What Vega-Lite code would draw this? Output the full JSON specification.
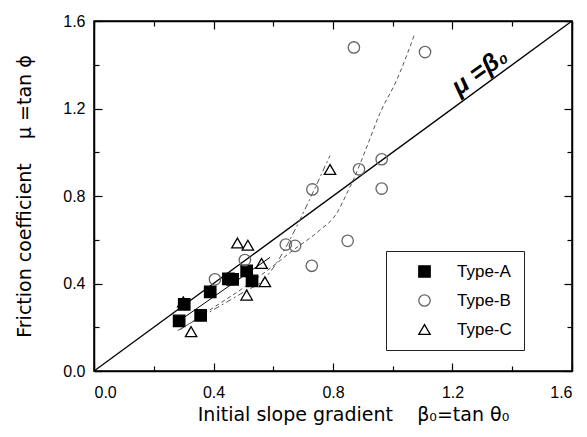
{
  "$schema": "https://vega.github.io/schema/vega-lite/v6.json",
  "width": 478,
  "height": 350,
  "autosize": "none",
  "padding": {"left": 94, "top": 21, "right": 15, "bottom": 66},
  "background": "white",
  "config": {
    "view": {"stroke": "black", "strokeWidth": 1.5},
    "axis": {"grid": false, "domainColor": "black", "tickColor": "black", "labelFont": "Liberation Sans", "labelFontSize": 16, "labelColor": "black", "titleFont": "DejaVu Sans", "titleFontSize": 19, "titleFontWeight": "normal", "titleColor": "black", "tickWidth": 1.2, "domainWidth": 1.5}
  },
  "datasets": {
    "pts": [
      {"type": "Type-A", "x": 0.285, "y": 0.229},
      {"type": "Type-A", "x": 0.302, "y": 0.305},
      {"type": "Type-A", "x": 0.357, "y": 0.254},
      {"type": "Type-A", "x": 0.389, "y": 0.362},
      {"type": "Type-A", "x": 0.450, "y": 0.421},
      {"type": "Type-A", "x": 0.464, "y": 0.419},
      {"type": "Type-A", "x": 0.511, "y": 0.458},
      {"type": "Type-A", "x": 0.529, "y": 0.412},
      {"type": "Type-B", "x": 0.405, "y": 0.419},
      {"type": "Type-B", "x": 0.505, "y": 0.507},
      {"type": "Type-B", "x": 0.642, "y": 0.578},
      {"type": "Type-B", "x": 0.673, "y": 0.572},
      {"type": "Type-B", "x": 0.729, "y": 0.481},
      {"type": "Type-B", "x": 0.731, "y": 0.830},
      {"type": "Type-B", "x": 0.849, "y": 0.595},
      {"type": "Type-B", "x": 0.887, "y": 0.922},
      {"type": "Type-B", "x": 0.963, "y": 0.968},
      {"type": "Type-B", "x": 0.963, "y": 0.834},
      {"type": "Type-B", "x": 0.870, "y": 1.479},
      {"type": "Type-B", "x": 1.108, "y": 1.458},
      {"type": "Type-C", "x": 0.299, "y": 0.316},
      {"type": "Type-C", "x": 0.325, "y": 0.180},
      {"type": "Type-C", "x": 0.480, "y": 0.585},
      {"type": "Type-C", "x": 0.515, "y": 0.575},
      {"type": "Type-C", "x": 0.511, "y": 0.347},
      {"type": "Type-C", "x": 0.561, "y": 0.492},
      {"type": "Type-C", "x": 0.572, "y": 0.408},
      {"type": "Type-C", "x": 0.790, "y": 0.921}
    ],
    "diag": [{"x": 0, "y": 0}, {"x": 1.6, "y": 1.6}],
    "fitA": [{"x": 0.265, "y": 0.21}, {"x": 0.59, "y": 0.52}],
    "fitB": [
      {"x": 0.29, "y": 0.19}, {"x": 0.40, "y": 0.29}, {"x": 0.50, "y": 0.38}, {"x": 0.59, "y": 0.47},
      {"x": 0.667, "y": 0.553}, {"x": 0.756, "y": 0.644}, {"x": 0.812, "y": 0.72}, {"x": 0.846, "y": 0.811},
      {"x": 0.87, "y": 0.88}, {"x": 0.913, "y": 1.024}, {"x": 0.957, "y": 1.178}, {"x": 1.013, "y": 1.329},
      {"x": 1.074, "y": 1.543}
    ],
    "fitC": [
      {"x": 0.28, "y": 0.185}, {"x": 0.40, "y": 0.28}, {"x": 0.50, "y": 0.36}, {"x": 0.57, "y": 0.42},
      {"x": 0.623, "y": 0.52}, {"x": 0.678, "y": 0.66}, {"x": 0.734, "y": 0.82}, {"x": 0.79, "y": 0.985}
    ],
    "lbl": [{"x": 1.29, "y": 1.37, "t": "μ =β₀"}]
  },
  "resolve": {"axis": {"x": "independent", "y": "independent"}},
  "layer": [
    {
      "data": {"name": "diag"},
      "mark": {"type": "line", "color": "black", "strokeWidth": 1.3, "clip": true},
      "encoding": {
        "x": {"field": "x", "type": "quantitative", "scale": {"domain": [0, 1.6], "nice": false, "zero": false},
          "axis": {"orient": "bottom", "values": [0, 0.4, 0.8, 1.2, 1.6], "format": ".1f", "tickSize": -8, "labelPadding": 21, "title": "Initial slope gradient\u00a0\u00a0\u00a0\u00a0β\u2080=tan\u00a0θ\u2080", "titlePadding": 5, "titleX": 259}},
        "y": {"field": "y", "type": "quantitative", "scale": {"domain": [0, 1.6], "nice": false, "zero": false},
          "axis": {"orient": "left", "values": [0, 0.4, 0.8, 1.2, 1.6], "format": ".1f", "tickSize": -8, "labelPadding": 17, "title": "Friction coefficient\u00a0\u00a0\u00a0\u00a0μ\u00a0=tan\u00a0ϕ", "titlePadding": 28}}
      }
    },
    {
      "data": {"name": "fitA"},
      "mark": {"type": "line", "color": "black", "strokeWidth": 1},
      "encoding": {
        "x": {"field": "x", "type": "quantitative", "axis": {"orient": "bottom", "values": [0.2, 0.6, 1.0, 1.4], "labels": false, "domain": false, "tickSize": -5, "title": null}},
        "y": {"field": "y", "type": "quantitative", "axis": {"orient": "left", "values": [0.2, 0.6, 1.0, 1.4], "labels": false, "domain": false, "tickSize": -5, "title": null}}
      }
    },
    {
      "data": {"name": "fitB"},
      "mark": {"type": "line", "color": "#555555", "strokeWidth": 1, "strokeDash": [4, 3], "interpolate": "monotone"},
      "encoding": {
        "x": {"field": "x", "type": "quantitative", "axis": {"orient": "top", "values": [0, 0.4, 0.8, 1.2, 1.6], "labels": false, "tickSize": -8, "title": null}},
        "y": {"field": "y", "type": "quantitative", "axis": {"orient": "right", "values": [0, 0.4, 0.8, 1.2, 1.6], "labels": false, "tickSize": -8, "title": null}}
      }
    },
    {
      "data": {"name": "fitC"},
      "mark": {"type": "line", "color": "#555555", "strokeWidth": 1, "strokeDash": [6, 3, 2, 3], "interpolate": "monotone"},
      "encoding": {
        "x": {"field": "x", "type": "quantitative", "axis": {"orient": "top", "values": [0.2, 0.6, 1.0, 1.4], "labels": false, "domain": false, "tickSize": -5, "title": null}},
        "y": {"field": "y", "type": "quantitative", "axis": {"orient": "right", "values": [0.2, 0.6, 1.0, 1.4], "labels": false, "domain": false, "tickSize": -5, "title": null}}
      }
    },
    {
      "data": {"name": "pts"},
      "mark": {"type": "point", "size": 130, "strokeWidth": 1.3, "opacity": 1},
      "encoding": {
        "x": {"field": "x", "type": "quantitative", "axis": null},
        "y": {"field": "y", "type": "quantitative", "axis": null},
        "shape": {"field": "type", "type": "nominal", "scale": {"domain": ["Type-A", "Type-B", "Type-C"], "range": ["square", "circle", "triangle-up"]},
          "legend": {"title": null, "orient": "none", "legendX": 292, "legendY": 230, "padding": 12, "strokeColor": "#222222", "fillColor": "white", "labelFont": "Liberation Sans", "labelFontSize": 17, "labelColor": "black", "symbolOffset": 18, "labelOffset": 24, "rowPadding": 11, "symbolSize": 130, "symbolStrokeWidth": 1.3}},
        "fill": {"field": "type", "type": "nominal", "scale": {"domain": ["Type-A", "Type-B", "Type-C"], "range": ["black", "transparent", "transparent"]}},
        "stroke": {"field": "type", "type": "nominal", "scale": {"domain": ["Type-A", "Type-B", "Type-C"], "range": ["black", "#666666", "black"]}}
      }
    },
    {
      "data": {"name": "lbl"},
      "mark": {"type": "text", "angle": 324, "font": "Liberation Sans", "fontSize": 25, "fontWeight": "bold", "fontStyle": "italic", "color": "black"},
      "encoding": {
        "x": {"field": "x", "type": "quantitative", "axis": null},
        "y": {"field": "y", "type": "quantitative", "axis": null},
        "text": {"field": "t", "type": "nominal"}
      }
    }
  ]
}
